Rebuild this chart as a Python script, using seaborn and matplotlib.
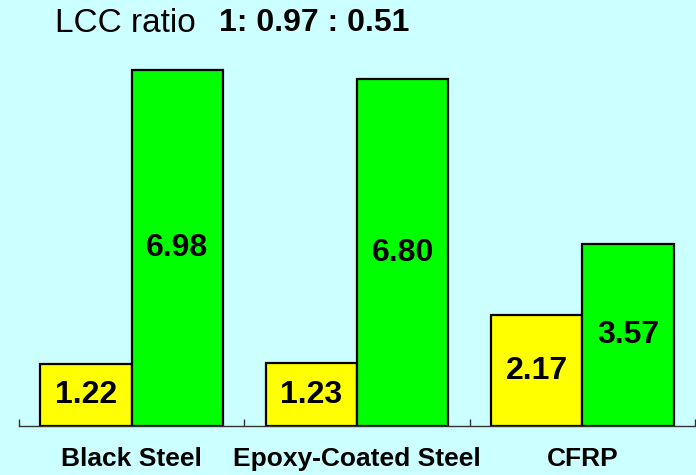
import numpy as np
import pandas as pd
import matplotlib
matplotlib.use("Agg")
import matplotlib.pyplot as plt
import seaborn as sns

# data
materials = ["Black Steel", "Epoxy-Coated Steel", "CFRP"]
series = ["Initial cost", "Life-cycle cost"]
initial_cost = [1.22, 1.23, 2.17]
lifecycle_cost = [6.98, 6.80, 3.57]
ratio_text = "1: 0.97 : 0.51"

BG = "#CCFFFF"
colors = ["#FFFF00", "#00FF00"]

df = pd.DataFrame({
    "material": materials * 2,
    "series": [series[0]] * 3 + [series[1]] * 3,
    "value": initial_cost + lifecycle_cost,
})

sns.set_theme(style="white")
plt.rcParams["font.family"] = ["Liberation Sans", "DejaVu Sans"]
plt.rcParams["text.color"] = "black"
plt.rcParams["xtick.color"] = "black"

fig = plt.figure(figsize=(6.96, 4.75), dpi=100, facecolor=BG)
ax = fig.add_axes([19 / 696, 1 - 426 / 475, 676 / 696, 366 / 475])
ax.set_facecolor(BG)

sns.barplot(data=df, x="material", y="value", hue="series", order=materials,
            hue_order=series, palette=colors, width=0.81, edgecolor="black",
            linewidth=1.6, saturation=1, legend=False, ax=ax)

for cont in ax.containers:
    ax.bar_label(cont, fmt="%.2f", label_type="center", fontsize=23,
                 fontweight="bold", color="black")

ax.set_xlim(-0.5, 2.5)
ax.set_ylim(0, 7.18)
ax.set_xlabel("")
ax.set_ylabel("")
ax.set_yticks([])
ax.set_xticks(range(len(materials)))
ax.set_xticklabels(materials, fontsize=19, fontweight="bold", color="black")
ax.tick_params(axis="x", which="major", length=0, pad=15)
ax.set_xticks([-0.5, 0.5, 1.5, 2.5], minor=True)
ax.tick_params(axis="x", which="minor", bottom=True, direction="in", length=5,
               width=1, color="#333333")

for s in ["top", "left", "right"]:
    ax.spines[s].set_visible(False)
ax.spines["bottom"].set_color("#333333")
ax.spines["bottom"].set_linewidth(1)

fig.text(55 / 696, 1 - 23 / 475, "LCC ratio", fontsize=24, va="center", ha="left",
         color="black")
fig.text(219 / 696, 1 - 23 / 475, ratio_text, fontsize=23, fontweight="bold",
         va="center", ha="left", color="black")

fig.savefig("out.png", dpi=100, facecolor=BG)
